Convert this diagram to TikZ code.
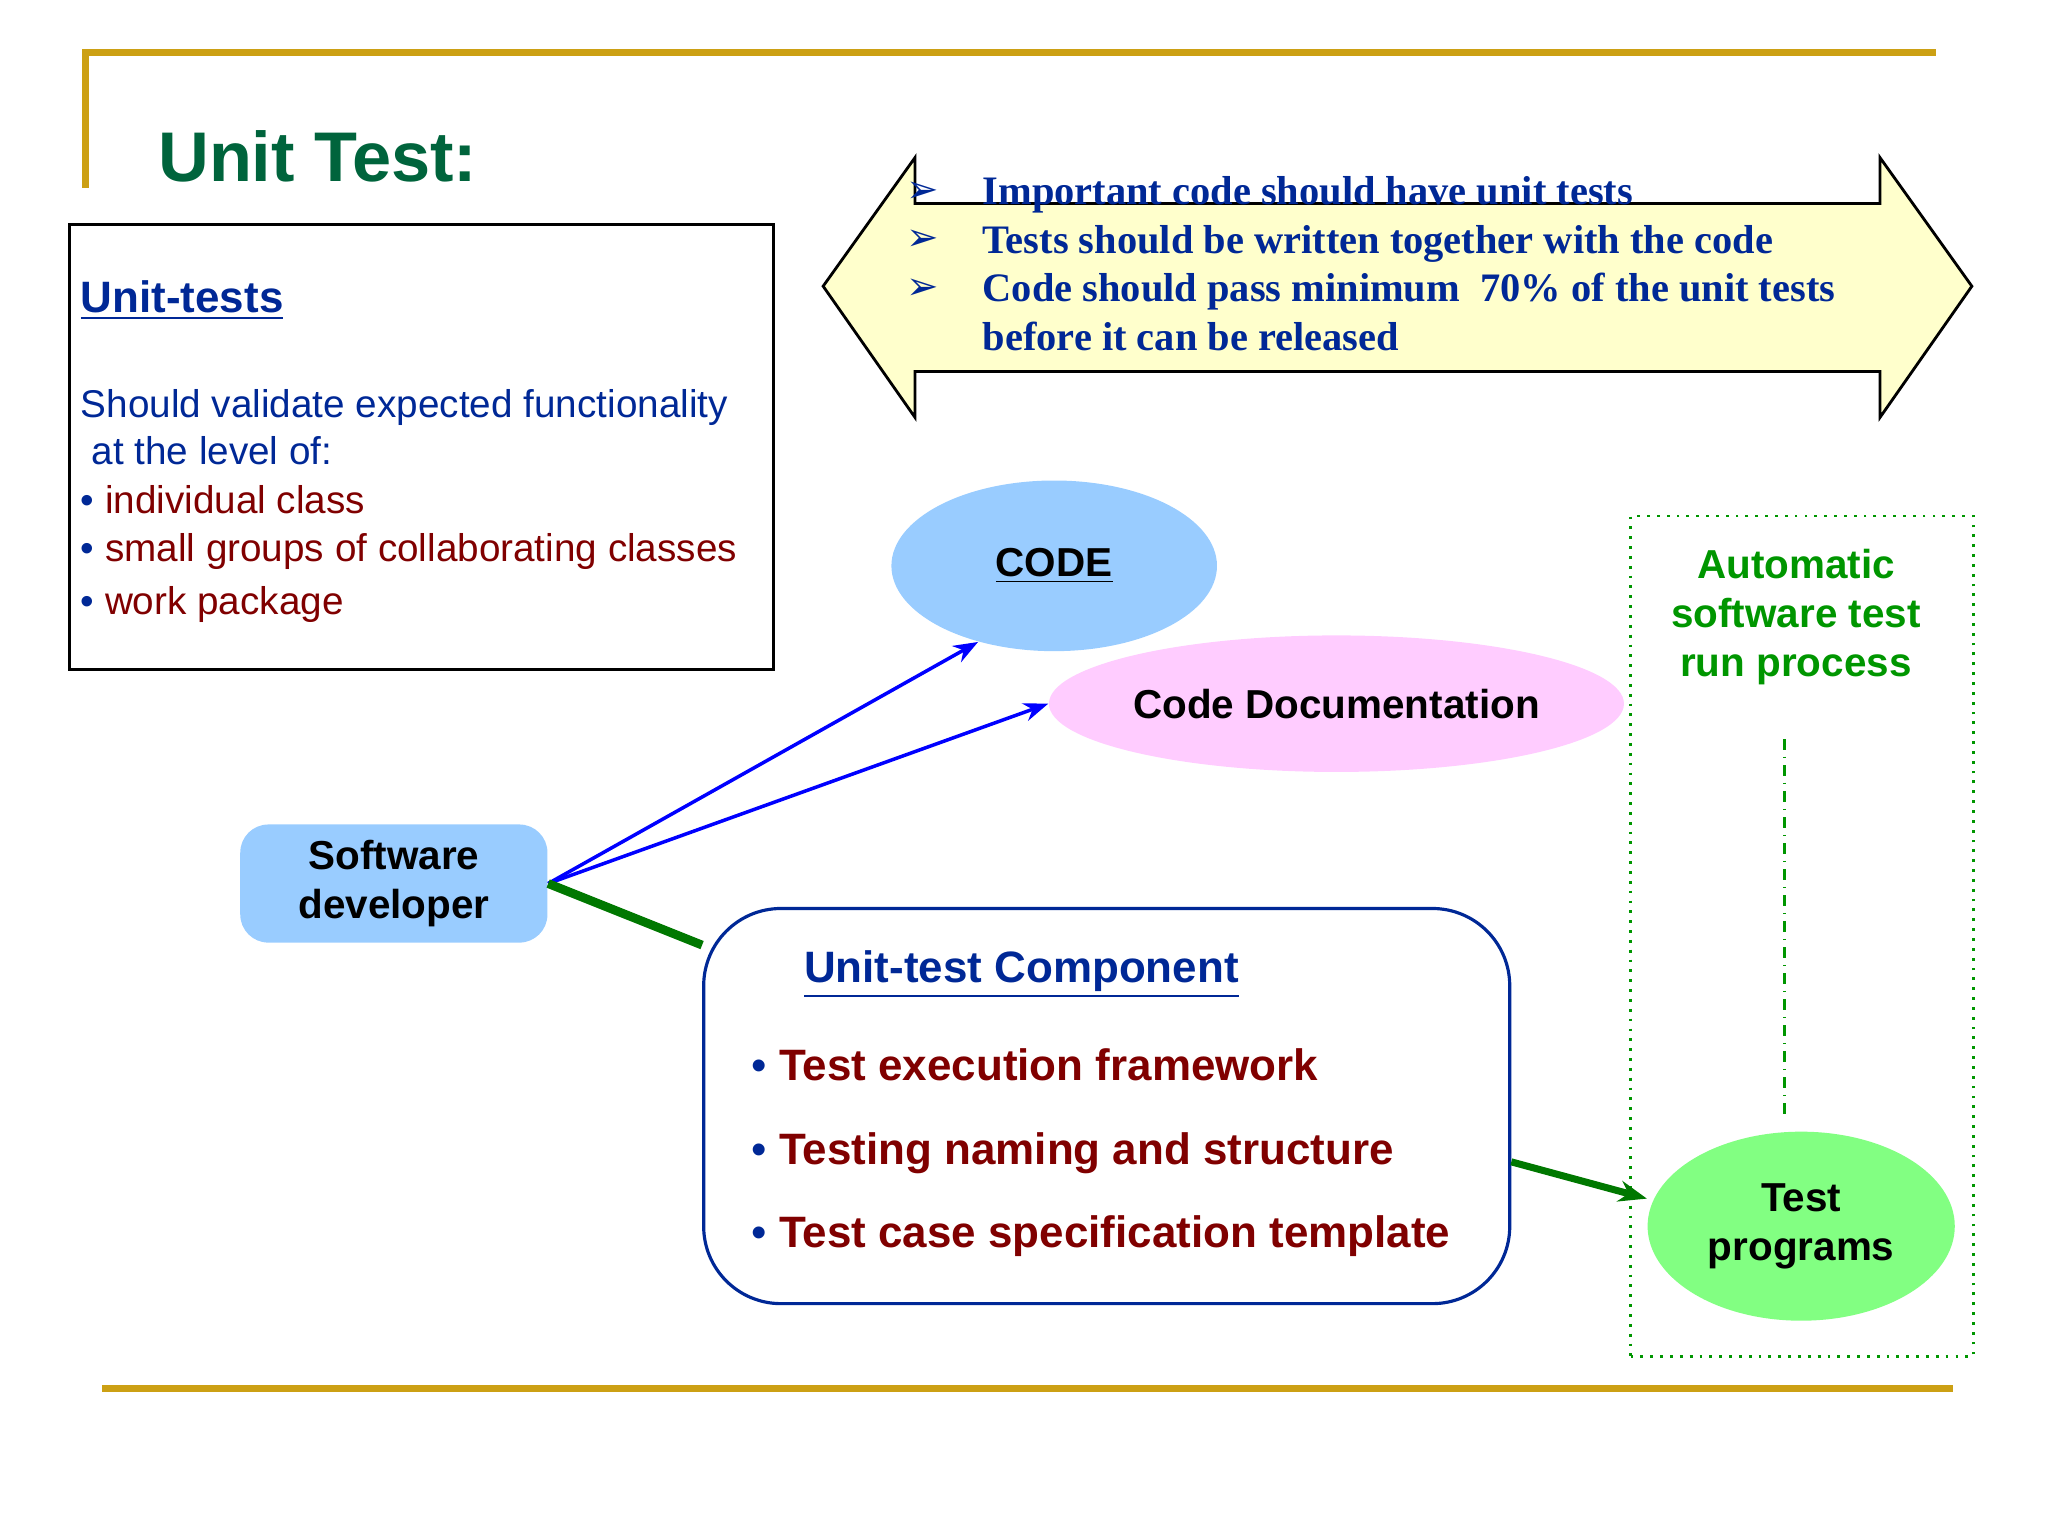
\documentclass[tikz,border=0pt]{standalone}
\usepackage{fontspec}
\setmainfont{Liberation Sans}
\newfontfamily\serifb{Liberation Serif}
\newfontfamily\dingfont{DejaVu Sans}
\usepackage{xcolor}
\usetikzlibrary{shapes.geometric, shapes.misc, positioning}
\usetikzlibrary{arrows.meta}
\definecolor{gold}{RGB}{204,160,20}
\definecolor{titlegreen}{RGB}{0,100,60}
\definecolor{navy}{RGB}{0,40,150}
\definecolor{darkred}{RGB}{128,0,0}
\definecolor{skyblue}{RGB}{153,204,255}
\definecolor{pinkfill}{RGB}{255,204,255}
\definecolor{lightgreen}{RGB}{130,255,130}
\definecolor{autogreen}{RGB}{0,150,0}
\definecolor{paleyellow}{RGB}{255,255,204}
\newcommand{\ux}{0.013128cm}

\begin{document}
\begin{tikzpicture}[x=0.013128cm, y=-0.013128cm]
% Define styles
\tikzstyle{blob} = [ellipse, inner sep=0pt, font=\bfseries\fontsize{11.5}{14}\selectfont, align=center]
\tikzstyle{line} = [font=\fontsize{11}{13}\selectfont, anchor=base west, inner sep=0pt]
\tikzstyle{item} = [font=\bfseries\fontsize{12.5}{15}\selectfont, text=darkred, anchor=base west, inner sep=0pt]
\tikzstyle{rule} = [gold, line width=2pt]
\useasboundingbox (0,0) rectangle (1560,1170);

% Frame
\draw[rule] (65,143) -- (65,40) -- (1475,40);
\draw[rule] (78,1058) -- (1488,1058);
\node[anchor=base west, inner sep=0pt, text=titlegreen, font=\bfseries\fontsize{20}{24}\selectfont] (title) at (120,138) {Unit Test:};

% Unit-tests box
\node[draw, line width=0.8pt, minimum width=536*\ux, minimum height=339*\ux, anchor=north west] (unitbox) at (52,170) {};
\node[line, text=navy, font=\bfseries\fontsize{12.5}{15}\selectfont] (ut_head) at (61,238) {\underline{Unit-tests}};
\node[line, text=navy] (ut_l1) at (61,318) {Should validate expected functionality};
\node[line, text=navy] (ut_l2) at (61,354) {\ at the level of:};
\node[line, text=darkred] (ut_l3) at (61,391) {{\color{navy}\textbullet} individual class};
\node[line, text=darkred] (ut_l4) at (61,428) {{\color{navy}\textbullet} small groups of collaborating classes};
\node[line, text=darkred] (ut_l5) at (61,468) {{\color{navy}\textbullet} work package};

% Double arrow
\draw[fill=paleyellow, line width=0.8pt] (627,218) -- (697,120) -- (697,155) -- (1432,155) -- (1432,120)
  -- (1502,218) -- (1432,318) -- (1432,283) -- (697,283) -- (697,318) -- cycle;
\foreach \y/\txt [count=\i] in {156/Important code should have unit tests,
  193/Tests should be written together with the code,
  230/Code should pass minimum\ \ 70\% of the unit tests} {
  \node[anchor=base west, inner sep=0pt, text=navy, font=\dingfont\fontsize{11}{13}\selectfont] (tick\i) at (690,\y-2) {➢};
  \node[anchor=base west, inner sep=0pt, text=navy, font=\serifb\bfseries\fontsize{11.5}{14}\selectfont] (rule\i) at (748,\y) {\txt};
}
\node[anchor=base west, inner sep=0pt, text=navy, font=\serifb\bfseries\fontsize{11.5}{14}\selectfont] (rule4) at (748,267) {before it can be released};

% Define nodes
\node[blob, fill=skyblue, minimum width=248*\ux, minimum height=130*\ux] (code) at (803,431) {\underline{CODE}};
\node[blob, fill=pinkfill, minimum width=340*\ux, minimum height=104*\ux] (doc) at (1018,536) {Code Documentation};
\node[rounded rectangle, rounded rectangle arc length=0, draw=none, fill=skyblue, minimum width=234*\ux, minimum height=90*\ux,
  rounded corners=8pt, rectangle, font=\bfseries\fontsize{11.5}{14}\selectfont, align=center] (dev) at (300,673) {Software\\ developer};
\node[draw=navy, line width=0.9pt, rounded corners=22pt, minimum width=614*\ux, minimum height=301*\ux] (comp) at (843,842.5) {};
\node[anchor=base west, inner sep=0pt, text=navy, font=\bfseries\fontsize{12.5}{15}\selectfont] (comp_head) at (612,748) {\underline{Unit-test Component}};
\node[item] (comp_i1) at (572,823) {{\color{navy}\mdseries\textbullet} Test execution framework};
\node[item] (comp_i2) at (572,887) {{\color{navy}\mdseries\textbullet} Testing naming and structure};
\node[item] (comp_i3) at (572,950) {{\color{navy}\mdseries\textbullet} Test case specification template};
\node[draw=autogreen, dotted, line width=0.8pt, minimum width=261*\ux, minimum height=640*\ux, anchor=north west] (auto) at (1241,392) {};
\node[text=autogreen, font=\bfseries\fontsize{11.5}{14}\selectfont, align=center] (auto_txt) at (1368,470) {Automatic\\software test\\run process};
\node[blob, fill=lightgreen, minimum width=234*\ux, minimum height=144*\ux] (prog) at (1372,934) {Test\\programs};
\coordinate (dash_top) at (1359,563);
\coordinate (dash_bot) at (1359,850);

% Connect the nodes
\draw[blue, line width=1pt, -{Stealth[length=7pt]}] (dev.east) -- (code.225);
\draw[blue, line width=1pt, -{Stealth[length=7pt]}] (dev.east) -- (doc.west);
\draw[autogreen!80!black, line width=2.5pt] (dev.east) -- (comp);
\draw[autogreen!80!black, line width=2pt, -{Stealth[length=8pt]}] (comp.east |- 0,885) -- (prog.west |- 0,913);
\draw[autogreen, dash dot, line width=0.8pt] (dash_top) -- (dash_bot);
\end{tikzpicture}
\end{document}
